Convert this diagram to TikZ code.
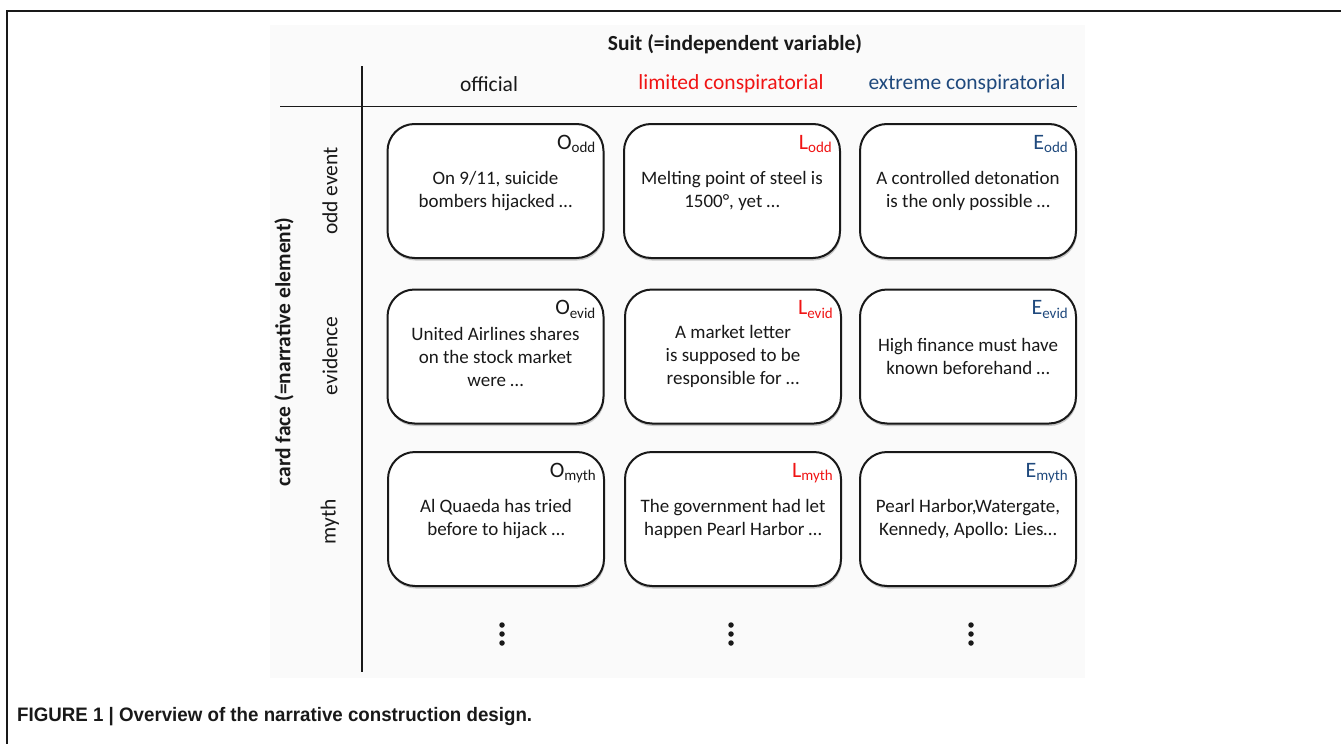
\documentclass[tikz,border=0pt]{standalone}
\usepackage{fontspec}
\setmainfont{Carlito}
\newfontfamily\capfont{Liberation Sans}[FakeStretch=0.96]
\usetikzlibrary{shadows}
\definecolor{cred}{RGB}{240,20,20}
\definecolor{cblue}{RGB}{31,73,125}
\definecolor{ink}{RGB}{25,25,25}
\definecolor{bgpanel}{RGB}{250,250,250}
\newcommand{\tagtxt}[2]{#1\raisebox{-0.35ex}{\fontsize{15}{15}\selectfont #2}}
\begin{document}
\begin{tikzpicture}[x=1pt,y=-1pt,
  card/.style={draw=ink, line width=2pt, rounded corners=27pt, fill=white,
    minimum width=216pt, minimum height=134pt, inner sep=0pt, align=center,
    font=\fontsize{19}{23}\selectfont, text=ink,
    drop shadow={shadow xshift=0.8pt, shadow yshift=-2.5pt, opacity=0.3, fill=black!70}},
  tagnode/.style={anchor=base east, font=\fontsize{22}{22}\selectfont, inner sep=0pt},
  colhead/.style={font=\fontsize{21.5}{25}\selectfont, inner sep=0pt},
  rowhead/.style={font=\fontsize{21.5}{25}\selectfont, rotate=90, inner sep=0pt, text=ink},
  axistitle/.style={font=\bfseries\fontsize{21.5}{25}\selectfont, inner sep=0pt, text=ink},
  rule/.style={draw=ink, line width=1.3pt},
  dotnode/.style={circle, fill=ink, inner sep=0pt, minimum size=5.5pt}]

\useasboundingbox (0,0) rectangle (1341,744);
\fill[bgpanel] (270,25) rectangle (1085,678);

% outer frame
\coordinate (fbl) at (7,744);
\coordinate (ftl) at (7,11);
\coordinate (ftr) at (1341,11);
\draw[rule] (fbl) -- (ftl) -- (ftr);

% axes
\coordinate (vtop) at (362,66);
\coordinate (vbot) at (362,672);
\coordinate (hl) at (280,106.5);
\coordinate (hr) at (1077,106.5);
\draw[rule] (vtop) -- (vbot);
\draw[rule] (hl) -- (hr);

% headers
\node[axistitle] (suit) at (735,44) {Suit (=independent variable)};
\node[colhead, text=ink] (hofficial) at (489,84) {official};
\node[colhead, text=cred] (hlimited) at (731,84) {limited conspiratorial};
\node[colhead, text=cblue] (hextreme) at (967,84) {extreme conspiratorial};

\node[axistitle, rotate=90] (cardface) at (284,352) {card face (=narrative element)};
\node[rowhead] (rodd) at (330,191) {odd event};
\node[rowhead] (revid) at (330,356) {evidence};
\node[rowhead] (rmyth) at (330,522) {myth};

% cards
\node[card] (c11) at (495.5,191) {On 9/11, suicide\\bombers hijacked …};
\node[card] (c12) at (732,191) {Melting point of steel is\\1500°, yet …};
\node[card] (c13) at (968,191) {A controlled detonation\\is the only possible …};
\node[card] (c21) at (495.5,356.5) {United Airlines shares\\on the stock market\\were …};
\node[card] (c22) at (733,356.5) {A market letter\\is supposed to be\\responsible for …};
\node[card] (c23) at (968,356.5) {High finance must have\\known beforehand …};
\node[card] (c31) at (496,519) {Al Quaeda has tried\\before to hijack …};
\node[card] (c32) at (733,519) {The government had let\\happen Pearl Harbor …};
\node[card] (c33) at (968,519) {Pearl Harbor,Watergate,\\Kennedy, Apollo: Lies…};

% tags
\node[tagnode, text=ink] (t11) at ([xshift=-9pt,yshift=-26pt]c11.north east) {\tagtxt{O}{odd}};
\node[tagnode, text=cred] (t12) at ([xshift=-9pt,yshift=-26pt]c12.north east) {\tagtxt{L}{odd}};
\node[tagnode, text=cblue] (t13) at ([xshift=-9pt,yshift=-26pt]c13.north east) {\tagtxt{E}{odd}};
\node[tagnode, text=ink] (t21) at ([xshift=-9pt,yshift=-26pt]c21.north east) {\tagtxt{O}{evid}};
\node[tagnode, text=cred] (t22) at ([xshift=-9pt,yshift=-26pt]c22.north east) {\tagtxt{L}{evid}};
\node[tagnode, text=cblue] (t23) at ([xshift=-9pt,yshift=-26pt]c23.north east) {\tagtxt{E}{evid}};
\node[tagnode, text=ink] (t31) at ([xshift=-9pt,yshift=-26pt]c31.north east) {\tagtxt{O}{myth}};
\node[tagnode, text=cred] (t32) at ([xshift=-9pt,yshift=-26pt]c32.north east) {\tagtxt{L}{myth}};
\node[tagnode, text=cblue] (t33) at ([xshift=-9pt,yshift=-26pt]c33.north east) {\tagtxt{E}{myth}};

% continuation dots
\foreach \cx/\nm in {502/a,731/b,971/c}{
  \node[dotnode] (dot\nm1) at (\cx,625) {};
  \node[dotnode] (dot\nm2) at (\cx,634) {};
  \node[dotnode] (dot\nm3) at (\cx,643) {};
}

% caption
\node[anchor=base west, inner sep=0pt, text=ink, font=\capfont\bfseries\fontsize{19.5}{22}\selectfont] (caption) at (17,721) {FIGURE 1 | Overview of the narrative construction design.};
\end{tikzpicture}
\end{document}
